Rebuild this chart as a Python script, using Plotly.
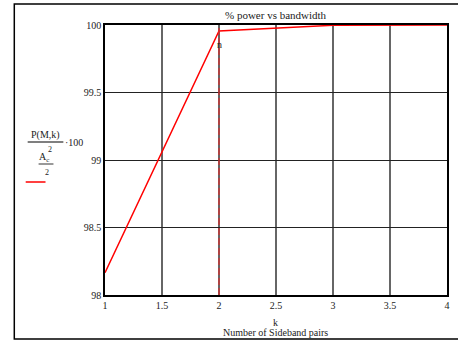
import plotly.graph_objects as go

k_values = [1, 2, 3, 4]
power_pct = [98.165, 99.956, 99.998, 100.0]
marker_k = 2
x_ticks = [1, 1.5, 2, 2.5, 3, 3.5, 4]
x_tick_labels = ["1", "1.5", "2", "2.5", "3", "3.5", "4"]
y_ticks = [98, 98.5, 99, 99.5, 100]
y_tick_labels = ["98", "98.5", "99", "99.5", "100"]

W, H = 458, 341
L, R, T, B = 105, 450, 25, 295
def px(x):
    return (x - L) / (R - L)
def py(y):
    return (B - y) / (B - T)

FONT = "Liberation Serif, Times New Roman, serif"

fig = go.Figure()
fig.add_trace(go.Scatter(x=k_values, y=power_pct, mode="lines",
                         line=dict(color="#ff0000", width=1.5),
                         showlegend=False, hoverinfo="skip"))
# marker line at k = 2
fig.add_trace(go.Scatter(x=[marker_k, marker_k], y=[98, 100], mode="lines",
                         line=dict(color="#d83030", width=1.3, dash="7px,3px"),
                         showlegend=False, hoverinfo="skip"))

shapes = [
    # outer frame
    dict(type="rect", xref="paper", yref="paper", x0=px(13.5), x1=px(462), y0=py(339), y1=py(4),
         line=dict(color="black", width=1.5), layer="below"),
    # big fraction bar
    dict(type="line", xref="paper", yref="paper", x0=px(27), x1=px(63), y0=py(142), y1=py(142),
         line=dict(color="#555", width=1.5)),
    # small fraction bar
    dict(type="line", xref="paper", yref="paper", x0=px(38), x1=px(53), y0=py(164), y1=py(164),
         line=dict(color="#555", width=1.2)),
    # legend red line
    dict(type="line", xref="paper", yref="paper", x0=px(25), x1=px(45), y0=py(182), y1=py(182),
         line=dict(color="#ff0000", width=1.5)),
]

def ann(text, x, y, size=10, xanchor="center"):
    return dict(text=text, xref="paper", yref="paper", x=px(x), y=py(y), showarrow=False,
                xanchor=xanchor, yanchor="middle", font=dict(family=FONT, size=size, color="#222"))

annotations = [
    ann("% power vs bandwidth", 277, 15, 11),
    ann("k", 277, 322, 10),
    ann("Number of Sideband pairs", 277, 332, 10),
    ann("P(M,k)", 45, 135, 10),
    ann("·100", 63, 142, 10, "left"),
    ann("A<sub>c</sub>", 43, 157, 10),
    ann("2", 50, 149, 8),
    ann("2", 46, 172, 8),
    ann("n", 220, 44, 10),
]

fig.update_layout(
    width=W, height=H,
    margin=dict(l=L, r=W - R, t=T, b=H - B),
    paper_bgcolor="white", plot_bgcolor="white",
    shapes=shapes, annotations=annotations,
    font=dict(family=FONT, size=10, color="#222"),
    xaxis=dict(range=[1, 4], tickvals=x_ticks, ticktext=x_tick_labels,
               showgrid=True, gridcolor="#666", gridwidth=1.5,
               showline=True, linecolor="black", linewidth=1.5, mirror=True,
               ticks="", zeroline=False, tickfont=dict(family=FONT, size=10)),
    yaxis=dict(range=[98, 100], tickvals=y_ticks, ticktext=y_tick_labels,
               showgrid=True, gridcolor="#222", gridwidth=1.2,
               showline=True, linecolor="black", linewidth=1.5, mirror=True,
               ticks="", zeroline=False, tickfont=dict(family=FONT, size=10)),
)

fig.write_html("out.html", config={"displayModeBar": False},
               post_script="document.body.style.margin='0';document.body.style.overflow='hidden';")
